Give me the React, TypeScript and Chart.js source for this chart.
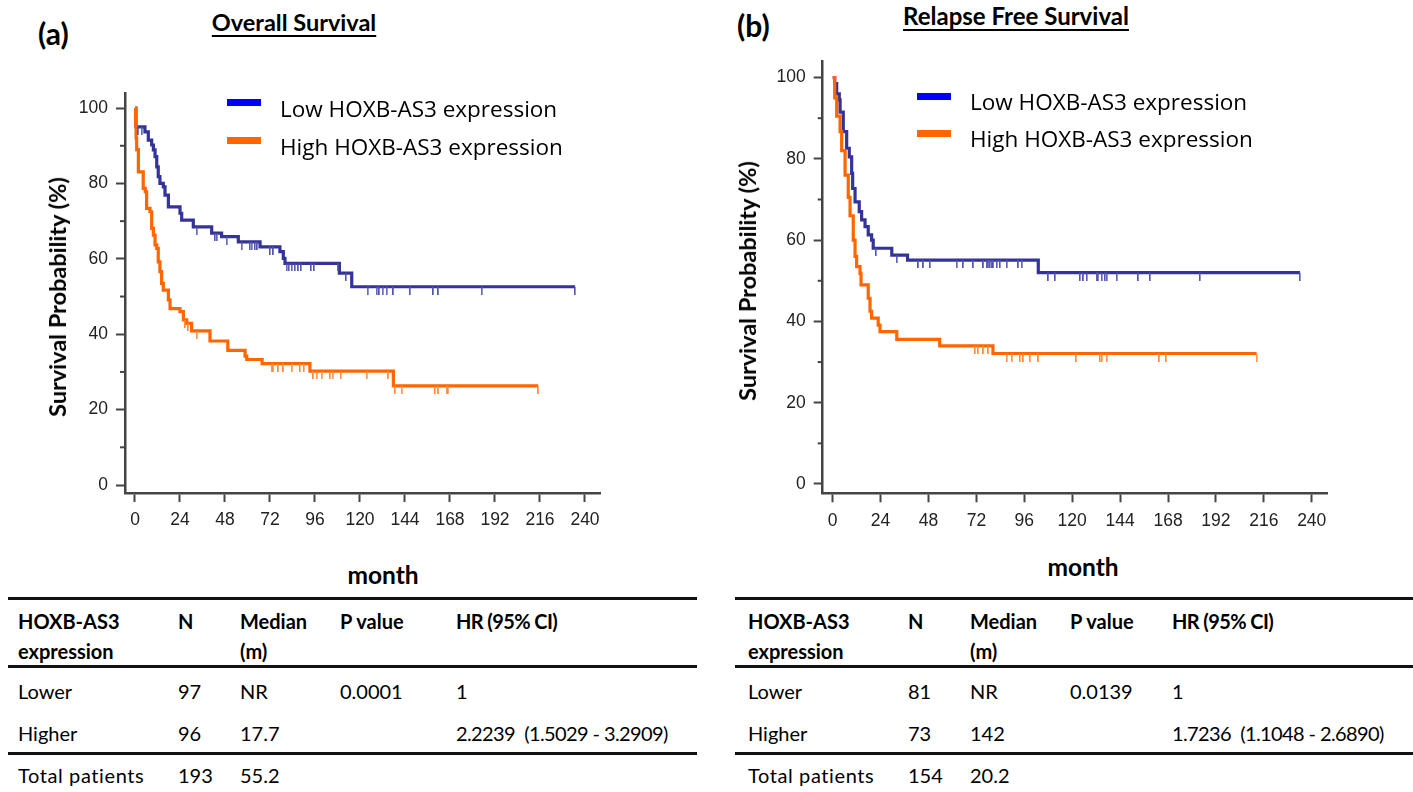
import React, { useEffect, useRef } from "react";
import { Chart, registerables } from "chart.js";
Chart.register(...registerables);

// ---------- data ----------
const xTickValues = [0, 24, 48, 72, 96, 120, 144, 168, 192, 216, 240];
const yTickValues = [0, 20, 40, 60, 80, 100];
const yMinorTickValues = [10, 30, 50, 70, 90];
const seriesLabels = ["Low HOXB-AS3 expression", "High HOXB-AS3 expression"];

// Overall survival
const osLowTimes = [0, 0.5, 5.3, 7.1, 8.9, 9.8, 10.7, 11.6, 12.4, 13.3, 15.1, 16, 17.8, 24, 24.9, 31.1, 40.9, 46.2, 55.1, 66.7, 77.3, 79.1, 80, 109, 115.6, 234.7];
const osLowSurv = [100, 95, 93.7, 91.5, 90.2, 88.9, 87.1, 84.4, 81.8, 80, 79.1, 76.9, 73.8, 72.1, 70.3, 68.5, 66.8, 65.9, 64.5, 63.2, 61.9, 60.1, 58.8, 56.2, 52.6, 52.6];
const osLowCensor = [1.8, 3.6, 32.9, 42.7, 43.6, 48.9, 56.9, 61.3, 62.2, 64, 65.2, 72, 73.8, 80.9, 82.1, 83.6, 85.3, 87.1, 88.5, 93.9, 95.5, 108.1, 112.5, 124.1, 128.9, 130.3, 132.1, 134.2, 137.8, 146.7, 159.1, 161.8, 184.9, 234.7];
const osHighTimes = [0, 0.3, 0.6, 0.9, 1.8, 4.4, 5.5, 6.2, 8, 8.9, 9.8, 10.7, 11.6, 12.4, 13.3, 14.2, 15.1, 17.8, 18.7, 24, 25.8, 27.6, 30.2, 40, 49.5, 58.7, 59.6, 67.8, 93.3, 137.8, 215.1];
const osHighSurv = [100, 96, 92, 89, 83.1, 78.7, 77.8, 73.4, 72.5, 68.1, 66.3, 63.7, 62.8, 59.2, 56.6, 53.5, 51.7, 49.1, 46.8, 46, 43.8, 42.9, 40.9, 38.2, 35.7, 34.2, 33.3, 32.2, 30.2, 26.3, 26.3];
const osHighCensor = [26.7, 28.4, 32.9, 72.9, 73.8, 76.4, 79.1, 83.6, 88, 90.1, 95.1, 96.9, 99.6, 104, 105.4, 109.7, 123.6, 135.1, 138.7, 142.2, 160, 161.8, 166.2, 167.1, 215.1];

// Relapse free survival
const rfsLowTimes = [0, 1, 2, 3.3, 3.7, 5.3, 7, 8.3, 9.5, 10, 11.2, 13.3, 14.5, 16.2, 17.8, 19.5, 20.3, 29.6, 37.5, 103, 234.1];
const rfsLowSurv = [100, 98.5, 96, 94.5, 91.5, 86.7, 82.6, 80.5, 76.4, 72.7, 69.4, 67, 65, 63.3, 61.3, 60, 58, 56.3, 55.1, 52, 52];
const rfsLowCensor = [21.7, 32.1, 42.9, 45.4, 48.7, 62.1, 65.4, 70.4, 75.5, 77.2, 78, 78.8, 79.7, 80.5, 82.2, 83.8, 87.2, 93, 94.7, 108, 111.4, 123.9, 125.6, 127.3, 132.3, 133.1, 134.8, 136.4, 137.3, 142.3, 153.1, 159, 184, 234.1];
const rfsHighTimes = [0, 1, 2, 3.7, 4.5, 6.2, 7.8, 8.7, 10.3, 11.2, 12, 13.7, 14.2, 17.8, 18.7, 19.5, 22.8, 23.7, 32.1, 53.6, 80.3, 212.4];
const rfsHighSurv = [100, 95, 90.5, 86.7, 82, 76, 70.5, 66, 60, 56, 53.5, 51.8, 49, 45.7, 42.5, 40.8, 39.1, 37.5, 35.6, 34, 32.1, 32.1];
const rfsHighCensor = [71.3, 72.9, 75.5, 78, 87.2, 89.7, 93.8, 95.5, 98.8, 103, 121.9, 133.9, 134.8, 137.3, 163.6, 167, 212.4];

// tables
const tableHeader1 = ["HOXB-AS3", "N", "Median", "P value", "HR (95% CI)"];
const tableHeader2 = ["expression", "", "(m)", "", ""];
const osRows = [
  ["Lower", "97", "NR", "0.0001", "1"],
  ["Higher", "96", "17.7", "", "2.2239  (1.5029 - 3.2909)"],
];
const osTotal = ["Total patients", "193", "55.2", "", ""];
const rfsRows = [
  ["Lower", "81", "NR", "0.0139", "1"],
  ["Higher", "73", "142", "", "1.7236  (1.1048 - 2.6890)"],
];
const rfsTotal = ["Total patients", "154", "20.2", "", ""];

// ---------- styling ----------
const LOW_LINE = "#333399";
const HIGH_LINE = "#ff6600";
const LOW_CENSOR = "#5555b0";
const HIGH_CENSOR = "#ff8a3d";
const LOW_SWATCH = "#0000ff";
const HIGH_SWATCH = "#ff6600";
const AXIS = "#444444";
const UI_FONT = "Lato, 'Open Sans', sans-serif";

function stepAt(times: number[], surv: number[], t: number) {
  let v = surv[0];
  for (let i = 0; i < times.length; i++) if (times[i] <= t) v = surv[i];
  return v;
}

function censorImage(color: string) {
  const c = document.createElement("canvas");
  c.width = 2;
  c.height = 16;
  const g = c.getContext("2d")!;
  g.fillStyle = color;
  g.fillRect(0, 8, 1.6, 8);
  return c;
}

type KMProps = {
  lowT: number[]; lowS: number[]; lowC: number[];
  highT: number[]; highS: number[]; highC: number[];
  left: number; top: number; width: number; height: number;
  xMin: number; xMax: number; yMin: number; yMax: number;
  yWidth: number; xHeight: number; padTop: number; padRight: number;
};

function KMChart(p: KMProps) {
  const ref = useRef<HTMLCanvasElement>(null);
  useEffect(() => {
    const minorTicks = {
      id: "minorTicks",
      afterDraw(chart: any) {
        const ys = chart.scales.y;
        const ctx = chart.ctx;
        const l = chart.chartArea.left;
        ctx.save();
        ctx.strokeStyle = AXIS;
        ctx.lineWidth = 2;
        yMinorTickValues.forEach((v) => {
          const py = ys.getPixelForValue(v);
          ctx.beginPath();
          ctx.moveTo(l - 5, py);
          ctx.lineTo(l, py);
          ctx.stroke();
        });
        ctx.restore();
      },
    };
    const tickFont = { family: "'Liberation Sans', Arial, sans-serif", size: 17.5 };
    const chart = new Chart(ref.current!, {
      type: "line",
      data: {
        datasets: [
          {
            label: seriesLabels[0],
            data: p.lowT.map((t, i) => ({ x: t, y: p.lowS[i] })),
            borderColor: LOW_LINE,
            borderWidth: 3.2,
            stepped: "before",
            pointRadius: 0,
            fill: false,
            order: 4,
          },
          {
            label: seriesLabels[1],
            data: p.highT.map((t, i) => ({ x: t, y: p.highS[i] })),
            borderColor: HIGH_LINE,
            borderWidth: 3.2,
            stepped: "before",
            pointRadius: 0,
            fill: false,
            order: 3,
          },
          {
            label: seriesLabels[0] + " censored",
            data: p.lowC.map((t) => ({ x: t, y: stepAt(p.lowT, p.lowS, t) })),
            showLine: false,
            pointStyle: censorImage(LOW_CENSOR) as any,
            pointRadius: 4,
            order: 2,
          },
          {
            label: seriesLabels[1] + " censored",
            data: p.highC.map((t) => ({ x: t, y: stepAt(p.highT, p.highS, t) })),
            showLine: false,
            pointStyle: censorImage(HIGH_CENSOR) as any,
            pointRadius: 4,
            order: 1,
          },
        ] as any,
      },
      options: {
        animation: false,
        responsive: false,
        events: [],
        layout: { autoPadding: false, padding: { top: p.padTop, right: p.padRight, left: 0, bottom: 0 } } as any,
        plugins: { legend: { display: false }, tooltip: { enabled: false } },
        scales: {
          x: {
            type: "linear",
            min: p.xMin,
            max: p.xMax,
            afterBuildTicks: (s: any) => { s.ticks = xTickValues.map((v) => ({ value: v })); },
            afterFit: (s: any) => { s.height = p.xHeight; },
            grid: { drawOnChartArea: false, drawTicks: true, tickLength: 9, tickWidth: 2, tickColor: AXIS },
            border: { display: true, color: AXIS, width: 2.5 },
            ticks: { font: tickFont, color: "#222", padding: 8, maxRotation: 0, autoSkip: false },
          },
          y: {
            type: "linear",
            min: p.yMin,
            max: p.yMax,
            afterBuildTicks: (s: any) => { s.ticks = yTickValues.map((v) => ({ value: v })); },
            afterFit: (s: any) => { s.width = p.yWidth; },
            grid: { drawOnChartArea: false, drawTicks: true, tickLength: 9, tickWidth: 2, tickColor: AXIS },
            border: { display: true, color: AXIS, width: 2.5 },
            ticks: { font: tickFont, color: "#222", padding: 8, autoSkip: false },
          },
        },
      } as any,
      plugins: [minorTicks],
    });
    return () => chart.destroy();
  }, []);
  return (
    <canvas
      ref={ref}
      width={p.width}
      height={p.height}
      style={{ position: "absolute", left: p.left, top: p.top, width: p.width, height: p.height }}
    />
  );
}

function Txt(props: { x: number; y: number; children: any; size: number; bold?: boolean; family?: string; underline?: boolean; center?: boolean; spacing?: number }) {
  return (
    <div
      style={{
        position: "absolute",
        left: props.x,
        top: props.y - props.size * 0.6,
        lineHeight: `${props.size * 1.2}px`,
        fontSize: props.size,
        fontWeight: props.bold ? 700 : 400,
        fontFamily: props.family || UI_FONT,
        textDecoration: props.underline ? "underline" : "none",
        textDecorationThickness: props.underline ? "2px" : undefined,
        textUnderlineOffset: props.underline ? "4px" : undefined,
        letterSpacing: props.spacing ? `${props.spacing}px` : undefined,
        whiteSpace: "pre",
        color: "#000",
        transform: props.center ? "translateX(-50%)" : undefined,
      }}
    >
      {props.children}
    </div>
  );
}

function Legend({ x, y1, y2, tx }: { x: number; y1: number; y2: number; tx: number }) {
  return (
    <>
      <div style={{ position: "absolute", left: x, top: y1 - 3.5, width: 34, height: 7, background: LOW_SWATCH }} />
      <div style={{ position: "absolute", left: x, top: y2 - 3.5, width: 34, height: 7, background: HIGH_SWATCH }} />
      <Txt x={tx} y={y1 + 5.5} size={22.5} family="'Open Sans', sans-serif">{seriesLabels[0]}</Txt>
      <Txt x={tx} y={y2 + 5.5} size={22.5} family="'Open Sans', sans-serif">{seriesLabels[1]}</Txt>
    </>
  );
}

function Table({ x0, x1, cols, rows, total }: { x0: number; x1: number; cols: number[]; rows: string[][]; total: string[] }) {
  const line = (y: number) => (
    <div style={{ position: "absolute", left: x0, top: y - 1.5, width: x1 - x0, height: 3, background: "#111" }} />
  );
  const rowYs = [691, 733];
  const fs = 20;
  return (
    <>
      {line(598)}
      {line(666)}
      {line(753)}
      {tableHeader1.map((t, i) => <Txt key={"h1" + i} x={cols[i]} y={621} size={fs} bold spacing={i === 4 ? -0.6 : 0}>{t}</Txt>)}
      {tableHeader2.map((t, i) => <Txt key={"h2" + i} x={cols[i]} y={651} size={fs} bold>{t}</Txt>)}
      {rows.map((r, ri) => r.map((t, i) => <Txt key={"r" + ri + i} x={cols[i]} y={rowYs[ri]} size={fs} spacing={i === 4 ? -0.6 : 0}>{t}</Txt>))}
      {total.map((t, i) => <Txt key={"t" + i} x={cols[i]} y={775} size={fs} spacing={i === 0 ? 0.6 : 0}>{t}</Txt>)}
    </>
  );
}

const yTitleStyle = (left: number, top: number): React.CSSProperties => ({
  position: "absolute",
  left,
  top,
  transform: "translate(-50%,-50%) rotate(-90deg)",
  fontFamily: UI_FONT,
  fontWeight: 700,
  fontSize: 23.5,
  whiteSpace: "nowrap",
  lineHeight: "28px",
});

export default function App() {
  return (
    <div style={{ position: "absolute", left: 0, top: 0, width: 1413, height: 792, background: "#fff", overflow: "hidden" }}>
      {/* Panel (a) */}
      <Txt x={38} y={33} size={30} bold>(a)</Txt>
      <Txt x={294} y={22} size={23.5} bold underline center>Overall Survival</Txt>
      <KMChart
        lowT={osLowTimes} lowS={osLowSurv} lowC={osLowCensor}
        highT={osHighTimes} highS={osHighSurv} highC={osHighCensor}
        left={30} top={70} width={600} height={480}
        xMin={-5.33} xMax={248} yMin={-2.12} yMax={104}
        yWidth={95} xHeight={57} padTop={23} padRight={30}
      />
      <div style={yTitleStyle(57, 297)}>Survival Probability (%)</div>
      <Txt x={383} y={575} size={24.5} bold center>month</Txt>
      <Legend x={227} y1={102.5} y2={140.5} tx={280} />
      <Table x0={8} x1={697} cols={[18, 178, 240, 340, 456]} rows={osRows} total={osTotal} />

      {/* Panel (b) */}
      <Txt x={737} y={25} size={30} bold>(b)</Txt>
      <Txt x={1016} y={16} size={24} bold underline center>Relapse Free Survival</Txt>
      <KMChart
        lowT={rfsLowTimes} lowS={rfsLowSurv} lowC={rfsLowCensor}
        highT={rfsHighTimes} highS={rfsHighSurv} highC={rfsHighCensor}
        left={730} top={40} width={630} height={510}
        xMin={-5.01} xMax={248} yMin={-2.29} yMax={103.9}
        yWidth={92.7} xHeight={56.7} padTop={21.7} padRight={32.3}
      />
      <div style={yTitleStyle(747, 281)}>Survival Probability (%)</div>
      <Txt x={1083} y={567} size={24.5} bold center>month</Txt>
      <Legend x={917} y1={96.3} y2={133} tx={970} />
      <Table x0={735} x1={1413} cols={[748, 908, 970, 1070, 1172]} rows={rfsRows} total={rfsTotal} />
    </div>
  );
}
